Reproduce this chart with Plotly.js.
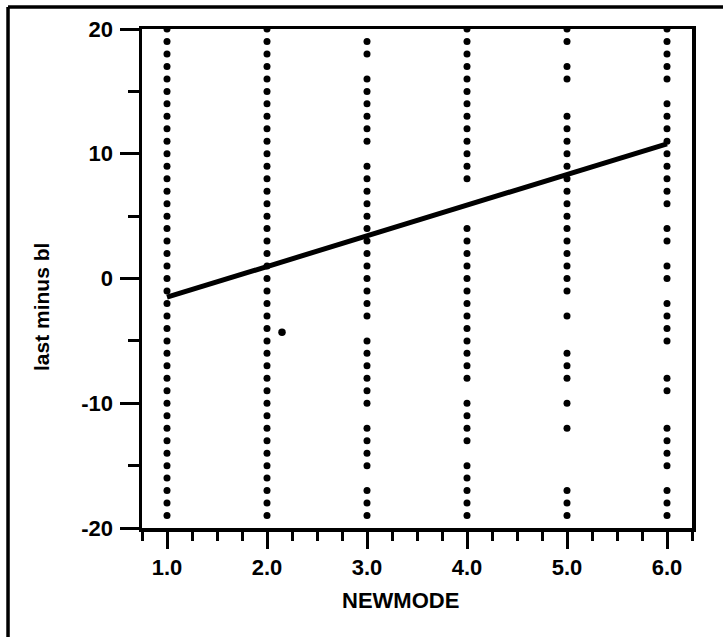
<!DOCTYPE html>
<html>
<head>
<meta charset="utf-8">
<script src="https://cdn.plot.ly/plotly-3.0.1.min.js"></script>
<style>html,body{margin:0;padding:0;background:#fff;}#chart{width:723px;height:637px;}</style>
</head>
<body>
<div id="chart"></div>
<script>
// NEWMODE categories
const modes = [1, 2, 3, 4, 5, 6];
// "last minus bl" values observed at each NEWMODE
const y1 = [20,19,18,17,16,15,14,13,12,11,10,9,8,7,6,5,4,3,2,1,0,-1,-2,-3,-4,-5,-6,-7,-8,-9,-10,-11,-12,-13,-14,-15,-16,-17,-18,-19];
const y2 = [20,19,18,17,16,15,14,13,12,11,10,9,8,7,6,5,4,3,2,1,0,-1,-2,-3,-4,-5,-6,-7,-8,-9,-10,-11,-12,-13,-14,-15,-16,-17,-18,-19];
const y3 = [19,18,16,15,14,13,12,11,9,8,7,6,5,4,3,2,1,0,-1,-2,-3,-5,-6,-7,-8,-9,-10,-12,-13,-14,-15,-17,-18,-19];
const y4 = [20,19,18,17,16,15,14,13,12,11,10,9,8,4,3,2,1,0,-1,-2,-3,-4,-5,-6,-7,-8,-10,-11,-12,-13,-15,-16,-17,-18,-19];
const y5 = [20,19,17,16,13,12,11,10,9,8,7,6,5,4,3,2,1,0,-1,-3,-6,-7,-8,-10,-12,-17,-18,-19];
const y6 = [20,19,18,17,16,14,13,12,11,10,9,8,7,6,4,3,1,0,-2,-3,-4,-5,-8,-9,-12,-13,-14,-15,-17,-18,-19];
const columns = [y1, y2, y3, y4, y5, y6];
// stray point
const extraX = [2.15];
const extraY = [-4.3];
// fitted regression line
const fitX = [1, 6];
const fitY = [-1.5, 10.8];
// tick labels
const xTickVals = [1, 2, 3, 4, 5, 6];
const xTickText = ['1.0', '2.0', '3.0', '4.0', '5.0', '6.0'];
const yTickVals = [-20, -10, 0, 10, 20];
const yTickText = ['-20', '-10', '0', '10', '20'];

const FONT = 'Liberation Sans, Arial, sans-serif';

const traces = [];
columns.forEach((ys, i) => {
  traces.push({
    type: 'scatter', mode: 'markers',
    x: ys.map(() => modes[i]), y: ys,
    marker: {color: '#000', size: 7},
    hoverinfo: 'x+y', showlegend: false
  });
});
traces.push({
  type: 'scatter', mode: 'markers', x: extraX, y: extraY,
  marker: {color: '#000', size: 7.5}, showlegend: false
});
traces.push({
  type: 'scatter', mode: 'lines', x: fitX, y: fitY,
  line: {color: '#000', width: 5}, showlegend: false
});

const axisCommon = {
  showgrid: false, zeroline: false, showline: true, linecolor: '#000', linewidth: 3.5,
  mirror: true, ticks: 'outside', tickcolor: '#000', tickwidth: 3,
  tickfont: {family: FONT, size: 22, color: '#000', weight: 'bold'}
};

const layout = {
  width: 723, height: 637,
  margin: {l: 142, r: 31, t: 29, b: 109},
  paper_bgcolor: '#fff', plot_bgcolor: '#fff',
  showlegend: false,
  xaxis: Object.assign({}, axisCommon, {
    range: [0.75, 6.25], tickmode: 'array', tickvals: xTickVals, ticktext: xTickText,
    ticklen: 17, ticklabelstandoff: 0,
    minor: {dtick: 0.25, tick0: 0, ticks: 'outside', ticklen: 9, tickwidth: 3, tickcolor: '#000', showgrid: false}
  }),
  yaxis: Object.assign({}, axisCommon, {
    range: [-20, 20], tickmode: 'array', tickvals: yTickVals, ticktext: yTickText,
    ticklen: 19, ticklabelstandoff: 2,
    minor: {dtick: 5, tick0: 0, ticks: 'outside', ticklen: 11, tickwidth: 3, tickcolor: '#000', showgrid: false}
  }),
  annotations: [
    {text: 'last minus bl', xref: 'paper', yref: 'paper', x: -0.1818, y: 0.4429,
     xanchor: 'center', yanchor: 'middle', textangle: -90, showarrow: false,
     font: {family: FONT, size: 21, color: '#000', weight: 'bold'}},
    {text: 'NEWMODE', xref: 'paper', yref: 'paper', x: 0.4709, y: -0.1443,
     xanchor: 'center', yanchor: 'middle', showarrow: false,
     font: {family: FONT, size: 22, color: '#000', weight: 'bold'}}
  ],
  shapes: [
    {type: 'line', xref: 'paper', yref: 'paper', x0: -0.2436, x1: -0.2436, y0: 1.0441, y1: -0.22, line: {color: '#000', width: 3.5}},
    {type: 'line', xref: 'paper', yref: 'paper', x0: -0.2436, x1: 1.06, y0: 1.0441, y1: 1.0441, line: {color: '#000', width: 3.5}}
  ]
};

Plotly.newPlot('chart', traces, layout, {displayModeBar: false, staticPlot: true});
</script>
</body>
</html>
